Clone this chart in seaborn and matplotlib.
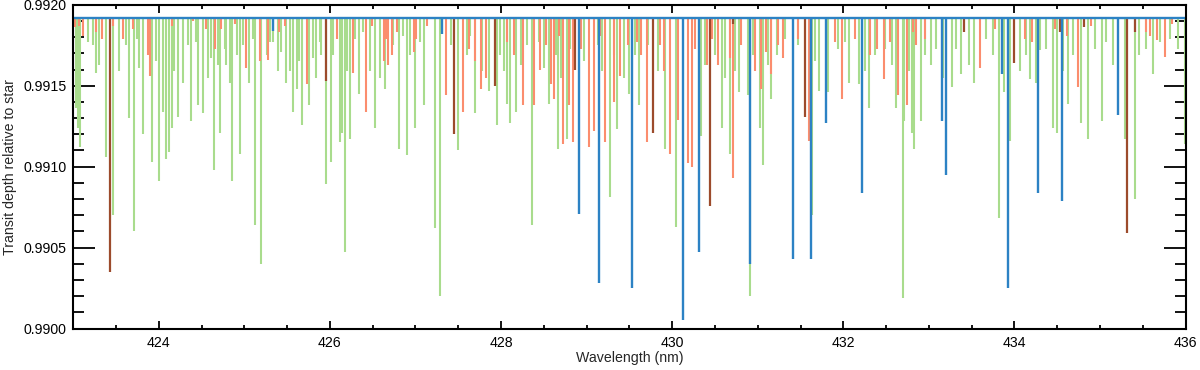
import matplotlib
matplotlib.use("Agg")
import seaborn as sns
import matplotlib.pyplot as plt
from matplotlib.ticker import MultipleLocator

# continuo comun de los cuatro espectros
baseline = 0.99192

# centros de linea (nm) y minimo de cada linea
green_x = [423.03, 423.06, 423.08, 423.17, 423.27, 423.38, 423.47, 423.54, 423.65, 423.71,
           423.77, 423.82, 423.92, 424.00, 424.05, 424.09, 424.12, 424.16, 424.23, 424.28,
           424.38, 424.46, 424.52, 424.57, 424.64, 424.72, 424.79, 424.83, 424.86, 424.95,
           425.06, 425.13, 425.20, 425.26, 425.34, 425.39, 425.49, 425.57, 425.61, 425.67,
           425.75, 425.84, 425.90, 425.96, 426.01, 426.12, 426.14, 426.18, 426.23,
           426.34, 426.53, 426.59, 426.64, 426.81, 426.90, 426.99, 427.10, 427.23, 427.29,
           427.50, 427.69, 427.86, 427.95, 428.07, 428.11, 428.18, 428.36, 428.56, 428.66,
           428.77, 429.27, 429.35,
           429.50, 429.61, 429.92, 430.04, 430.34, 430.58, 430.67, 430.78, 430.89, 430.91,
           431.03, 431.06, 431.16, 431.63, 431.72, 431.82, 432.07, 432.18, 432.30, 432.62,
           432.70, 432.71,
           432.80, 432.83, 432.91, 433.02, 433.08, 433.27, 433.38, 433.53, 433.82, 433.88,
           433.95, 434.18, 434.25, 434.30, 434.45, 434.50, 434.62, 434.78, 434.86, 435.02,
           435.29, 435.41, 435.62, 435.99,
           # lineas cortas de la franja superior
           423.23, 423.30, 423.62, 423.75, 423.97, 424.18, 424.34, 424.44, 424.61, 424.69,
           424.77, 424.91, 424.98, 425.10, 425.30, 425.43, 425.53, 425.64, 425.80, 425.88,
           426.04, 426.20,
           426.29, 426.39, 426.47, 426.74, 426.86, 426.94, 427.05, 427.41, 427.60, 427.64,
           427.78, 427.99, 428.03, 428.23, 428.30, 428.44, 428.50, 428.64, 428.70, 428.81,
           428.97, 429.13, 429.18, 429.32, 429.44,
           429.56, 429.72, 429.84, 430.38, 430.50, 430.62, 430.73, 430.95, 431.12, 431.22,
           431.32, 431.47, 431.67, 431.94, 432.02, 432.25, 432.37, 432.49, 432.57,
           432.77, 432.95, 433.16, 433.32, 433.47, 433.67, 433.75, 434.06, 434.14, 434.37,
           434.57, 434.68, 434.94, 435.07, 435.15, 435.46, 435.54, 435.70, 435.82, 435.91]
green_min = [0.99136, 0.99124, 0.99112, 0.99177, 0.99158, 0.99106, 0.99070, 0.99159, 0.99130, 0.99060,
             0.99161, 0.99120, 0.99103, 0.99091, 0.99134, 0.99105, 0.99109, 0.99124, 0.99131, 0.99152,
             0.99128, 0.99138, 0.99133, 0.99155, 0.99098, 0.99121, 0.99163, 0.99152, 0.99091, 0.99108,
             0.99152, 0.99064, 0.99040, 0.99169, 0.99177, 0.99159, 0.99152, 0.99134, 0.99148, 0.99126,
             0.99138, 0.99155, 0.99169, 0.99089, 0.99103, 0.99115, 0.99121, 0.99047, 0.99117,
             0.99145, 0.99124, 0.99155, 0.99148, 0.99111, 0.99107, 0.99124, 0.99138, 0.99062, 0.99020,
             0.99110, 0.99133, 0.99147, 0.99126, 0.99139, 0.99127, 0.99134, 0.99064, 0.99139, 0.99111,
             0.99117, 0.99081, 0.99123,
             0.99145, 0.99138, 0.99111, 0.99063, 0.99119, 0.99124, 0.99108, 0.99146, 0.99144, 0.99020,
             0.99124, 0.99101, 0.99142, 0.99070, 0.99147, 0.99146, 0.99152, 0.99151, 0.99136, 0.99136,
             0.99019, 0.99128,
             0.99121, 0.99111, 0.99128, 0.99163, 0.99173, 0.99149, 0.99157, 0.99152, 0.99068, 0.99146,
             0.99116, 0.99154, 0.99152, 0.99172, 0.99124, 0.99121, 0.99139, 0.99127, 0.99117, 0.99128,
             0.99117, 0.99080, 0.99157, 0.99114,
             0.99175, 0.99163, 0.99175, 0.99179, 0.99165, 0.99159, 0.99175, 0.99177, 0.99167, 0.99163,
             0.99173, 0.99169, 0.99175, 0.99179, 0.99177, 0.99171, 0.99159, 0.99165, 0.99167, 0.99177,
             0.99169, 0.99159,
             0.99179, 0.99183, 0.99159, 0.99175, 0.99181, 0.99169, 0.99177, 0.99175, 0.99169, 0.99181,
             0.99159, 0.99169, 0.99159, 0.99163, 0.99175, 0.99177, 0.99161, 0.99169, 0.99155, 0.99173,
             0.99165, 0.99175, 0.99159, 0.99169, 0.99155,
             0.99169, 0.99175, 0.99159, 0.99163, 0.99169, 0.99155, 0.99159, 0.99169, 0.99163, 0.99169,
             0.99179, 0.99175, 0.99165, 0.99173, 0.99177, 0.99159, 0.99169, 0.99173, 0.99163,
             0.99159, 0.99169, 0.99155, 0.99173, 0.99163, 0.99179, 0.99169, 0.99159, 0.99169, 0.99173,
             0.99159, 0.99169, 0.99173, 0.99177, 0.99163, 0.99169, 0.99173, 0.99177, 0.99179, 0.99173]

salmon_x = [423.02, 423.11, 423.34, 423.58, 423.875, 423.90, 424.40, 424.66, 424.73, 424.89,
            425.02, 425.18, 425.28, 425.47, 425.73, 426.08,
            426.27, 426.42, 426.63, 426.68, 426.72, 426.98, 427.01, 427.36, 427.56, 427.76,
            427.82, 428.26, 428.38, 428.46, 428.58, 428.62, 428.72, 428.79, 428.84, 429.03,
            429.09, 429.22, 429.32, 429.39,
            429.59, 429.70, 429.98, 430.07, 430.18, 430.23, 430.41, 430.67, 430.71, 431.04,
            431.16, 431.29, 431.60, 431.99, 432.31, 432.47, 432.64,
            432.75, 432.81, 433.60, 433.77, 434.12, 434.47, 434.74, 434.90, 435.54, 435.66,
            435.76, 435.84,
            # lineas cortas de la franja superior
            423.07, 423.27, 423.46, 423.70, 424.16, 424.55, 425.41,
            426.49, 426.66, 426.78, 427.13, 427.62, 427.70, 428.07, 428.15, 428.52, 428.68,
            428.93, 429.16, 429.48,
            429.64, 429.86, 429.91, 430.27, 430.46, 430.54, 430.81, 430.97, 431.10, 431.24,
            431.47, 431.90, 432.14, 432.39, 432.55,
            432.85, 432.96, 433.86, 434.21, 434.61, 435.58]
salmon_min = [0.99186, 0.99181, 0.99179, 0.99179, 0.99169, 0.99156, 0.99190, 0.99173, 0.99185, 0.99188,
              0.99161, 0.99165, 0.99166, 0.99187, 0.99151, 0.99179,
              0.99158, 0.99134, 0.99165, 0.99163, 0.99169, 0.99171, 0.99179, 0.99144, 0.99134, 0.99148,
              0.99155, 0.99138, 0.99138, 0.99160, 0.99151, 0.99142, 0.99114, 0.99138, 0.99115, 0.99112,
              0.99122, 0.99115, 0.99140, 0.99156,
              0.99177, 0.99115, 0.99108, 0.99129, 0.99102, 0.99100, 0.99163, 0.99167, 0.99093, 0.99148,
              0.99157, 0.99167, 0.99116, 0.99142, 0.99169, 0.99154, 0.99144,
              0.99138, 0.99183, 0.99161, 0.99185, 0.99179, 0.99185, 0.99149, 0.99187, 0.99183, 0.99178,
              0.99168, 0.99188,
              0.99187, 0.99183, 0.99187, 0.99185, 0.99187, 0.99185, 0.99183,
              0.99187, 0.99179, 0.99183, 0.99187, 0.99173, 0.99165, 0.99177, 0.99169, 0.99175, 0.99181,
              0.99173, 0.99181, 0.99175,
              0.99169, 0.99175, 0.99159, 0.99173, 0.99179, 0.99163, 0.99175, 0.99159, 0.99171, 0.99175,
              0.99179, 0.99177, 0.99179, 0.99173, 0.99177,
              0.99175, 0.99179, 0.99183, 0.99177, 0.99181, 0.99181]

brown_x = [423.43, 425.95, 427.45, 427.93, 428.86, 429.77, 430.44, 430.71, 431.55, 433.41,
           433.99, 434.53, 434.81, 435.31, 435.41]
brown_min = [0.99035, 0.99153, 0.99120, 0.99150, 0.99160, 0.99121, 0.99076, 0.99188, 0.99131, 0.99183,
             0.99164, 0.99183, 0.99186, 0.99059, 0.99183]

blue_x = [425.33, 427.31, 428.91, 429.15, 429.53, 430.13, 430.31, 430.91, 431.41, 431.62,
          431.80, 432.22, 433.15, 433.20, 433.86, 433.92, 434.27, 434.56, 435.21]
blue_min = [0.99184, 0.99182, 0.99071, 0.99028, 0.99025, 0.99005, 0.99047, 0.99040, 0.99043, 0.99043,
            0.99127, 0.99084, 0.99128, 0.99095, 0.99157, 0.99025, 0.99084, 0.99079, 0.99132]

x_ticks = [424, 426, 428, 430, 432, 434, 436]
y_ticks = [0.9900, 0.9905, 0.9910, 0.9915, 0.9920]

sns.set_theme(style="ticks")
plt.rcParams['font.family'] = ['Liberation Sans', 'DejaVu Sans']

fig = plt.figure(figsize=(12, 3.7), dpi=100)
ax = fig.add_axes([0.061, 0.112, 0.927, 0.875])

ax.vlines(green_x, green_min, baseline, color="#a9dc8d", linewidth=1.5)
ax.vlines(salmon_x, salmon_min, baseline, color="#fb8d6e", linewidth=1.5)
ax.vlines(brown_x, brown_min, baseline, color="#9c4b2c", linewidth=1.6)
ax.vlines(blue_x, blue_min, baseline, color="#2c82c4", linewidth=1.7)
ax.axhline(baseline, color="#2c82c4", linewidth=1.7)

ax.set_xlim(423, 436)
ax.set_ylim(0.9900, 0.9920)
ax.set_xticks(x_ticks)
ax.set_yticks(y_ticks)
ax.set_yticklabels([f"{v:.4f}" for v in y_ticks])
ax.xaxis.set_minor_locator(MultipleLocator(0.5))
ax.yaxis.set_minor_locator(MultipleLocator(0.0001))

ax.tick_params(which="both", direction="in", top=True, right=True, width=1.3,
               colors="black", labelsize=10.2, pad=5)
ax.tick_params(axis="x", which="major", length=6)
ax.tick_params(axis="x", which="minor", length=3)
ax.tick_params(axis="y", which="major", length=16)
ax.tick_params(axis="y", which="minor", length=8)

for s in ax.spines.values():
    s.set_linewidth(1.5)
    s.set_color("black")

ax.set_xlabel("Wavelength (nm)", fontsize=10.2, labelpad=1)
ax.set_ylabel("Transit depth relative to star", fontsize=10.2, labelpad=4)

plt.savefig("out.png", dpi=100)
plt.close()
